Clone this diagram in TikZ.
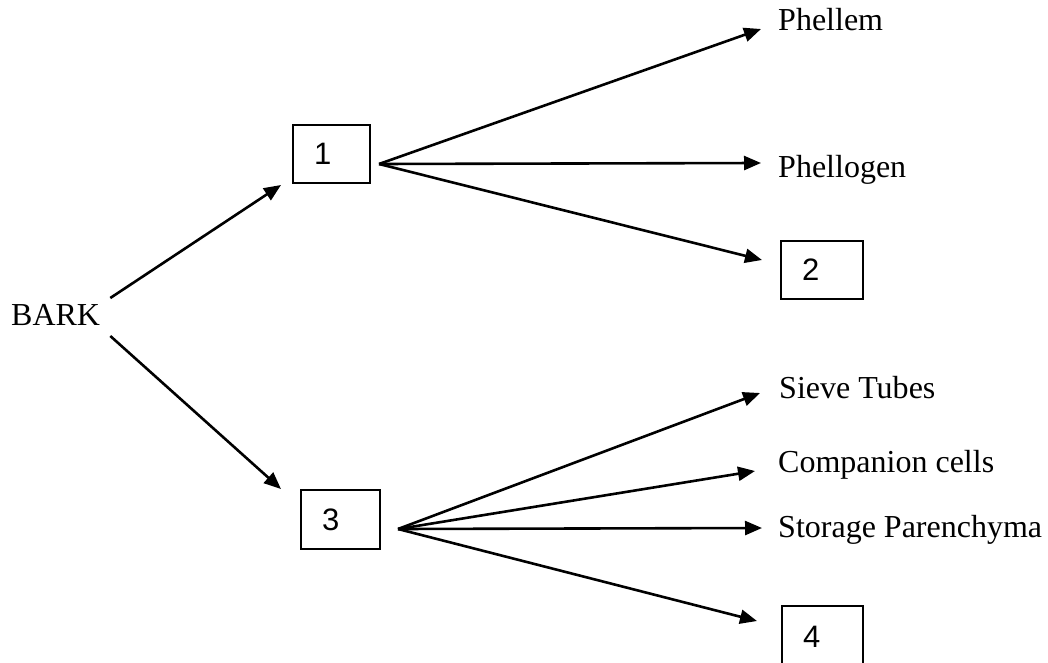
\documentclass[tikz,border=0pt]{standalone}
\usepackage{fontspec}
\setmainfont{Liberation Serif}
\newfontfamily\digitfont{Liberation Sans}
\usetikzlibrary{arrows.meta}

\begin{document}
\begin{tikzpicture}[x=1pt,y=-1pt,
  label/.style={inner sep=0pt,anchor=base west,font=\fontsize{32}{38}\selectfont},
  numbox/.style={draw,line width=2pt,inner xsep=21pt,inner ysep=0pt,align=left,
                 font=\digitfont\fontsize{31}{36}\selectfont,anchor=north west},
  arr/.style={line width=2.6pt,-{Triangle[length=17pt,width=14pt]}}]

  \useasboundingbox (0,0) rectangle (1048,663);
  \clip (0,0) rectangle (1048,663);
  \fill[white] (0,0) rectangle (1048,663);

  % root
  \node[label] (bark) at (11,325) {BARK};

  % first level boxes
  \node[numbox,text width=35pt,minimum height=58pt] (box1) at (292,124) {1};
  \node[numbox,text width=37pt,minimum height=59pt] (box3) at (300,489) {3};

  % fan hubs
  \coordinate (hub1) at ([xshift=8pt,yshift=-10pt]box1.east);
  \coordinate (hub3) at ([xshift=17pt,yshift=-9.5pt]box3.east);

  % outer layer: periderm
  \node[label] (phellem)   at (778,31)  {Phellem};
  \node[label] (phellogen) at (778,177) {Phellogen};
  \node[numbox,text width=40pt,minimum height=58pt] (box2) at (780,240) {2};

  % outer layer: phloem
  \node[label] (sieve)     at (779,398) {Sieve Tubes};
  \node[label] (companion) at (778,472) {Companion cells};
  \node[label] (storage)   at (778,537) {Storage Parenchyma};
  \node[numbox,text width=39pt,minimum height=62pt] (box4) at (781,605) {4};

  % BARK branches
  \draw[arr] ([xshift=10pt,yshift=27pt]bark.base east) -- ([xshift=-11pt,yshift=-1pt]box1.south west);
  \draw[arr] ([xshift=10pt,yshift=-11pt]bark.base east) -- ([xshift=-19pt]box3.north west);

  % fan from box 1
  \draw[arr] (hub1) -- ([xshift=-17pt,yshift=2pt]phellem.base west);
  \draw[arr] (hub1) -- ([xshift=-17pt,yshift=14pt]phellogen.base west);
  \draw[arr] (hub1) -- ([xshift=-18pt,yshift=10pt]box2.west);

  % fan from box 3
  \draw[arr] (hub3) -- ([xshift=-19pt,yshift=5pt]sieve.base west);
  \draw[arr] (hub3) -- ([xshift=-23pt,yshift=1pt]companion.base west);
  \draw[arr] (hub3) -- ([xshift=-16pt,yshift=9pt]storage.base west);
  \draw[arr] (hub3) -- ([xshift=-24pt,yshift=16pt]box4.west);
\end{tikzpicture}
\end{document}
